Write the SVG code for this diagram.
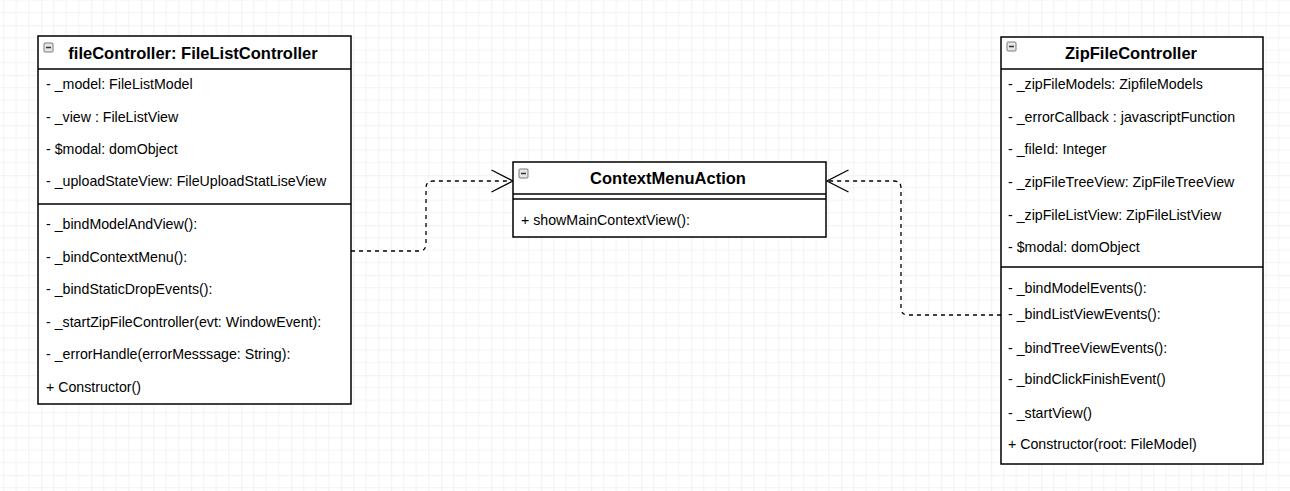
<svg xmlns="http://www.w3.org/2000/svg" width="1290" height="491" viewBox="0 0 1290 491">
<style>
.box{fill:#fff;stroke:#000;stroke-width:1.5}
.sep{stroke:#000;stroke-width:1.5;fill:none}
.t{font-family:"Liberation Sans",Arial,sans-serif;font-size:14.2px;fill:#000}
.h{font-family:"Liberation Sans",Arial,sans-serif;font-size:16.5px;font-weight:bold;fill:#000;text-anchor:middle}
.icon{fill:#e6e6e6;stroke:#7a7a7a;stroke-width:1}
.conn{fill:none;stroke:#000;stroke-width:1.3;stroke-dasharray:4 4}
.arr{fill:none;stroke:#000;stroke-width:1.3}
</style>
<defs>
<pattern id="grid" patternUnits="userSpaceOnUse" x="41.25" y="25.25" width="50" height="50">
<path d="M12.5 0V50M25 0V50M37.5 0V50M0 12.5H50M0 25H50M0 37.5H50" stroke="#f3f3f3" stroke-width="1" fill="none"/>
<path d="M0 0V50M0 0H50" stroke="#e4e4e4" stroke-width="1" fill="none"/>
</pattern>
<g id="col">
<rect class="icon" x="0" y="0" width="9" height="9" rx="1"/>
<path d="M2 4.5H7" stroke="#333" stroke-width="1.5"/>
</g>
</defs>
<rect width="1290" height="491" fill="#fff"/>
<rect width="1290" height="491" fill="url(#grid)"/>

<g id="connectors">
<path class="conn" d="M351 251H419Q426 251 426 244V188Q426 181 433 181H511"/>
<path class="arr" d="M491.5 170L513 181L491.5 192"/>
<path class="conn" d="M1001 315H908Q901 315 901 308V188Q901 181 894 181H828"/>
<path class="arr" d="M848.5 170L827 181L848.5 192"/>
</g>

<g id="fileController">
<rect class="box" x="38" y="36" width="313" height="368"/>
<path class="sep" d="M38 69H351M38 204H351"/>
<use href="#col" x="44" y="43"/>
<text class="h" x="193" y="58.5">fileController: FileListController</text>
<text class="t" x="46" y="89">- _model: FileListModel</text>
<text class="t" x="46" y="121.5">- _view : FileListView</text>
<text class="t" x="46" y="153.5">- $modal: domObject</text>
<text class="t" x="46" y="186">- _uploadStateView: FileUploadStatLiseView</text>
<text class="t" x="46" y="229">- _bindModelAndView():</text>
<text class="t" x="46" y="262">- _bindContextMenu():</text>
<text class="t" x="46" y="294">- _bindStaticDropEvents():</text>
<text class="t" x="46" y="327">- _startZipFileController(evt: WindowEvent):</text>
<text class="t" x="46" y="359">- _errorHandle(errorMesssage: String):</text>
<text class="t" x="46" y="391.5">+ Constructor()</text>
</g>

<g id="contextMenuAction">
<rect class="box" x="513" y="162" width="313" height="75"/>
<path class="sep" d="M513 194H826M513 199H826"/>
<use href="#col" x="519" y="169"/>
<text class="h" x="668" y="183.5">ContextMenuAction</text>
<text class="t" x="521" y="225">+ showMainContextView():</text>
</g>

<g id="zipFileController">
<rect class="box" x="1001" y="37" width="262" height="427"/>
<path class="sep" d="M1001 69H1263M1001 267H1263"/>
<use href="#col" x="1007" y="42"/>
<text class="h" x="1131" y="59">ZipFileController</text>
<text class="t" x="1008" y="88.5">- _zipFileModels: ZipfileModels</text>
<text class="t" x="1008" y="122">- _errorCallback : javascriptFunction</text>
<text class="t" x="1008" y="154">- _fileId: Integer</text>
<text class="t" x="1008" y="187">- _zipFileTreeView: ZipFileTreeView</text>
<text class="t" x="1008" y="219.5">- _zipFileListView: ZipFileListView</text>
<text class="t" x="1008" y="252">- $modal: domObject</text>
<text class="t" x="1008" y="292.5">- _bindModelEvents():</text>
<text class="t" x="1008" y="319">- _bindListViewEvents():</text>
<text class="t" x="1008" y="352.5">- _bindTreeViewEvents():</text>
<text class="t" x="1008" y="384">- _bindClickFinishEvent()</text>
<text class="t" x="1008" y="417.5">- _startView()</text>
<text class="t" x="1008" y="448.5">+ Constructor(root: FileModel)</text>
</g>
</svg>
